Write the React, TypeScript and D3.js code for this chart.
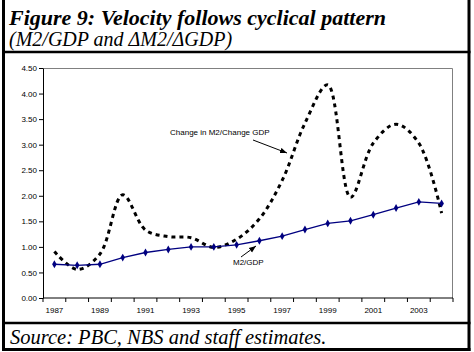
import React, { useEffect, useRef } from 'react';
import * as d3 from 'd3';

const years = [1987, 1988, 1989, 1990, 1991, 1992, 1993, 1994, 1995, 1996, 1997, 1998, 1999, 2000, 2001, 2002, 2003, 2004];
const m2gdp = [0.66, 0.64, 0.66, 0.79, 0.89, 0.95, 1.0, 1.0, 1.04, 1.12, 1.21, 1.34, 1.46, 1.51, 1.63, 1.76, 1.88, 1.85];
const changeRatio = [0.91, 0.56, 0.86, 2.02, 1.33, 1.2, 1.18, 0.99, 1.15, 1.55, 2.3, 3.42, 4.17, 1.97, 3.03, 3.4, 3.03, 1.66];
const yTicks = [0, 0.5, 1, 1.5, 2, 2.5, 3, 3.5, 4, 4.5];
const yearLabels = [1987, 1989, 1991, 1993, 1995, 1997, 1999, 2001, 2003];

const W = 474;
const H = 352;
const margin = { left: 43, right: 21, top: 68, bottom: 54 };

export default function App() {
  const ref = useRef(null);

  useEffect(() => {
    const root = d3.select(ref.current);
    root.selectAll('*').remove();
    const svg = root.append('svg').attr('width', W).attr('height', H);
    svg.append('rect').attr('width', W).attr('height', H).attr('fill', '#fff');

    // frame
    const frame = svg.append('g').attr('stroke', '#000').attr('fill', 'none');
    frame.append('line').attr('x1', 3.5).attr('x2', 3.5).attr('y1', 0).attr('y2', 351).attr('stroke-width', 3);
    frame.append('line').attr('x1', 469).attr('x2', 469).attr('y1', 0).attr('y2', 351).attr('stroke-width', 3);
    frame.append('line').attr('x1', 2).attr('x2', 470.5).attr('y1', 349.5).attr('y2', 349.5).attr('stroke-width', 3);
    frame.append('line').attr('x1', 2).attr('x2', 470.5).attr('y1', 52).attr('y2', 52).attr('stroke-width', 2.5);
    frame.append('line').attr('x1', 2).attr('x2', 470.5).attr('y1', 323).attr('y2', 323).attr('stroke-width', 2.5);

    // titles
    svg.append('text').attr('x', 9).attr('y', 25)
      .style('font-family', '"Liberation Serif", serif').style('font-size', '22px')
      .style('font-weight', 'bold').style('font-style', 'italic')
      .text('Figure 9: Velocity follows cyclical pattern');
    svg.append('text').attr('x', 9).attr('y', 46)
      .style('font-family', '"Liberation Serif", serif').style('font-size', '20px')
      .style('font-style', 'italic')
      .text('(M2/GDP and \u0394M2/\u0394GDP)');
    svg.append('text').attr('x', 10).attr('y', 344)
      .style('font-family', '"Liberation Serif", serif').style('font-size', '20.5px')
      .style('font-style', 'italic')
      .text('Source:  PBC, NBS and staff estimates.');

    const width = W - margin.left - margin.right;
    const height = H - margin.top - margin.bottom;
    const g = svg.append('g').attr('transform', `translate(${margin.left},${margin.top})`);

    const x = d3.scaleBand().domain(years.map(String)).range([0, width]).padding(0);
    const y = d3.scaleLinear().domain([0, 4.5]).range([height, 0]);
    const cx = (i) => x(String(years[i])) + x.bandwidth() / 2;

    // plot border (top, right gray)
    g.append('path').attr('d', `M0,0.5H${width - 0.5}V${height}`)
      .attr('fill', 'none').attr('stroke', '#808080').attr('stroke-width', 1);

    // y axis
    const yAxis = g.append('g')
      .call(d3.axisLeft(y).tickValues(yTicks).tickFormat(d3.format('.2f')).tickSize(4).tickSizeOuter(0));
    yAxis.select('.domain').attr('stroke', '#000');
    yAxis.selectAll('text').style('font-family', 'Arial, "Liberation Sans", sans-serif').style('font-size', '8px').attr('x', -6);

    // x axis: ticks on band edges, labels on every other year
    const xg = g.append('g').attr('transform', `translate(0,${height})`);
    xg.append('line').attr('x1', 0).attr('x2', width).attr('stroke', '#000');
    const edges = d3.range(years.length + 1).map((i) => i * x.bandwidth());
    xg.selectAll('.tk').data(edges).join('line').attr('class', 'tk')
      .attr('x1', (d) => d).attr('x2', (d) => d).attr('y1', 0).attr('y2', 4).attr('stroke', '#000');
    xg.selectAll('.lb').data(yearLabels).join('text').attr('class', 'lb')
      .attr('x', (d) => x(String(d)) + x.bandwidth() / 2).attr('y', 15)
      .attr('text-anchor', 'middle')
      .style('font-family', 'Arial, "Liberation Sans", sans-serif').style('font-size', '8px')
      .text((d) => d);

    // dashed smoothed series
    const dashLine = d3.line().x((d, i) => cx(i)).y((d) => y(d)).curve(d3.curveCatmullRom.alpha(0.5));
    g.append('path').datum(changeRatio).attr('d', dashLine)
      .attr('fill', 'none').attr('stroke', '#000').attr('stroke-width', 3)
      .attr('stroke-dasharray', '4 4');

    // M2/GDP
    const line = d3.line().x((d, i) => cx(i)).y((d) => y(d));
    g.append('path').datum(m2gdp).attr('d', line)
      .attr('fill', 'none').attr('stroke', '#000080').attr('stroke-width', 1.3);
    g.selectAll('.mk').data(m2gdp).join('path').attr('class', 'mk')
      .attr('transform', (d, i) => `translate(${cx(i)},${y(d)})`)
      .attr('d', d3.symbol().type(d3.symbolDiamond).size(18))
      .attr('fill', '#000080');

    // annotations
    svg.append('defs').append('marker')
      .attr('id', 'arr').attr('viewBox', '0 -5 10 10').attr('refX', 10).attr('refY', 0)
      .attr('markerWidth', 7).attr('markerHeight', 7).attr('orient', 'auto')
      .append('path').attr('d', 'M0,-4L10,0L0,4Z').attr('fill', '#000');

    svg.append('text').attr('x', 170).attr('y', 135)
      .style('font-family', 'Arial, "Liberation Sans", sans-serif').style('font-size', '8px')
      .text('Change in M2/Change GDP');
    svg.append('line').attr('x1', 253).attr('y1', 140).attr('x2', 287).attr('y2', 153)
      .attr('stroke', '#000').attr('stroke-width', 1).attr('marker-end', 'url(#arr)');

    svg.append('text').attr('x', 233).attr('y', 265)
      .style('font-family', 'Arial, "Liberation Sans", sans-serif').style('font-size', '8px')
      .text('M2/GDP');
    svg.append('line').attr('x1', 241).attr('y1', 257).attr('x2', 256).attr('y2', 246)
      .attr('stroke', '#000').attr('stroke-width', 1).attr('marker-end', 'url(#arr)');
  }, []);

  return <div ref={ref} style={{ position: 'absolute', left: 0, top: 0 }} />;
}
